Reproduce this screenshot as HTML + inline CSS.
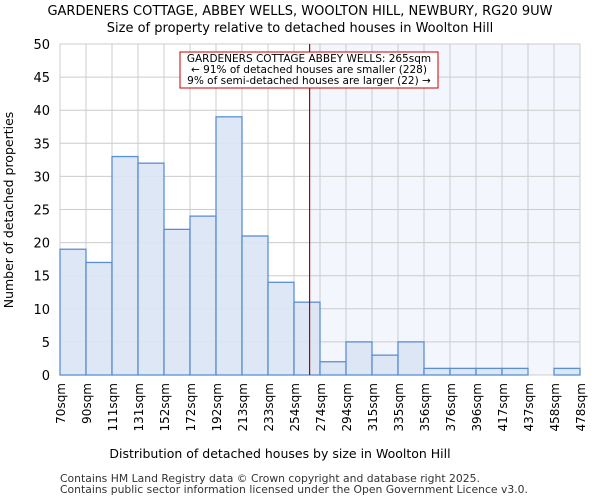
<!DOCTYPE html>
<html><head><meta charset="utf-8"><style>
body{margin:0;background:#fff;font-family:"DejaVu Sans","Liberation Sans",sans-serif}
</style></head><body>
<svg id="chart" width="600" height="500" xmlns="http://www.w3.org/2000/svg" font-family="DejaVu Sans, Liberation Sans, sans-serif">
<text x="300" y="15" text-anchor="middle" font-size="13">GARDENERS COTTAGE, ABBEY WELLS, WOOLTON HILL, NEWBURY, RG20 9UW</text>
<text x="300" y="32" text-anchor="middle" font-size="13">Size of property relative to detached houses in Woolton Hill</text>
<g id="plot"></g>
<text x="280" y="458" text-anchor="middle" font-size="12.5">Distribution of detached houses by size in Woolton Hill</text>
<text transform="translate(13,210) rotate(-90)" text-anchor="middle" font-size="12.5">Number of detached properties</text>
<text x="60" y="482" font-size="10.8" fill="#333">Contains HM Land Registry data © Crown copyright and database right 2025.</text>
<text x="60" y="493" font-size="10.8" fill="#333">Contains public sector information licensed under the Open Government Licence v3.0.</text>
</svg>
<script>
const binLabels=["70sqm","90sqm","111sqm","131sqm","152sqm","172sqm","192sqm","213sqm","233sqm","254sqm","274sqm","294sqm","315sqm","335sqm","356sqm","376sqm","396sqm","417sqm","437sqm","458sqm","478sqm"];
const counts=[19,17,33,32,22,24,39,21,14,11,2,5,3,5,1,1,1,1,0,1];
const yTicks=[0,5,10,15,20,25,30,35,40,45,50];
const subjectBin=9.6;
const NS="http://www.w3.org/2000/svg";
const L=60,R=580,T=44,B=375,yMax=50;
const n=counts.length,bw=(R-L)/n;
const xs=i=>L+i*bw, ys=v=>B-(v/yMax)*(B-T);
const g=document.getElementById('plot');
function mk(t,a){const e=document.createElementNS(NS,t);for(const k in a)e.setAttribute(k,a[k]);g.appendChild(e);return e;}
const vx=xs(subjectBin);
let e=mk('rect',{x:vx,y:T,width:R-vx,height:B-T,fill:'#f3f6fd'});


yTicks.forEach(v=>{
 let l=mk('line',{x1:L,x2:R,y1:ys(v),y2:ys(v),stroke:'#cccccc'});
 
 
 let t=mk('text',{x:L-10,y:ys(v)+5,'text-anchor':'end','font-size':'13'});t.textContent=v;
 
 
});
binLabels.forEach((s,i)=>{
 let l=mk('line',{x1:xs(i),x2:xs(i),y1:T,y2:B,stroke:'#cccccc'});
 
 
 let t=mk('text',{transform:`translate(${xs(i)+5},${B+8}) rotate(-90)`,'text-anchor':'end','font-size':'12'});t.textContent=s;
 
 
});
counts.forEach((v,i)=>{
 if(v<=0)return;
 let r=mk('rect',{x:xs(i),y:ys(v),width:bw,height:B-ys(v),fill:'#dae4f4',stroke:'#5b8fd4','stroke-width':1.3,'fill-opacity':0.9});
 
 
});
e=mk('line',{x1:vx,x2:vx,y1:T,y2:B,stroke:'#b00000','stroke-width':1.2});


e=mk('rect',{x:180,y:52,width:258,height:36,fill:'#fff',stroke:'#cc0000'});


["GARDENERS COTTAGE ABBEY WELLS: 265sqm","← 91% of detached houses are smaller (228)","9% of semi-detached houses are larger (22) →"].forEach((s,i)=>{
 let t=mk('text',{x:309,y:62+i*11,'text-anchor':'middle','font-size':'10.5'});t.textContent=s;
 
 
});
</script>
</body></html>
